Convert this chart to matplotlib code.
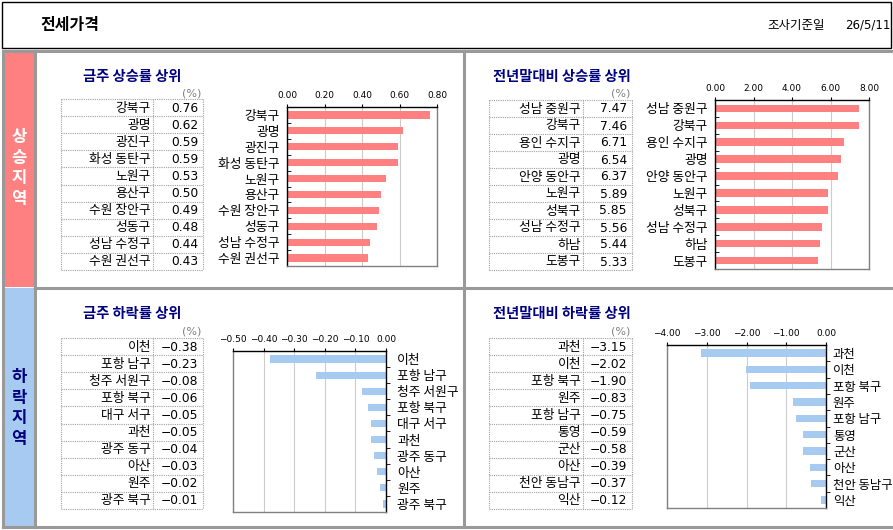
import numpy as np
import matplotlib
matplotlib.use("Agg")
import matplotlib.pyplot as plt
from matplotlib.patches import Rectangle
from matplotlib.ticker import FuncFormatter, FixedLocator

plt.rcParams['font.family'] = ['Noto Sans CJK KR', 'DejaVu Sans']
plt.rcParams['axes.unicode_minus'] = True

# data
week_up_names = ["강북구", "광명", "광진구", "화성 동탄구", "노원구", "용산구",
                 "수원 장안구", "성동구", "성남 수정구", "수원 권선구"]
week_up_vals = [0.76, 0.62, 0.59, 0.59, 0.53, 0.50, 0.49, 0.48, 0.44, 0.43]

year_up_names = ["성남 중원구", "강북구", "용인 수지구", "광명", "안양 동안구",
                 "노원구", "성북구", "성남 수정구", "하남", "도봉구"]
year_up_vals = [7.47, 7.46, 6.71, 6.54, 6.37, 5.89, 5.85, 5.56, 5.44, 5.33]

week_down_names = ["이천", "포항 남구", "청주 서원구", "포항 북구", "대구 서구",
                   "과천", "광주 동구", "아산", "원주", "광주 북구"]
week_down_vals = [-0.38, -0.23, -0.08, -0.06, -0.05, -0.05, -0.04, -0.03, -0.02, -0.01]

year_down_names = ["과천", "이천", "포항 북구", "원주", "포항 남구",
                   "통영", "군산", "아산", "천안 동남구", "익산"]
year_down_vals = [-3.15, -2.02, -1.90, -0.83, -0.75, -0.59, -0.58, -0.39, -0.37, -0.12]

week_up_ticks = [0.0, 0.2, 0.4, 0.6, 0.8]
year_up_ticks = [0, 2, 4, 6, 8]
week_down_ticks = [-0.5, -0.4, -0.3, -0.2, -0.1, 0.0]
year_down_ticks = [-4, -3, -2, -1, 0]

title = "전세가격"
date_label = "조사기준일"
date_value = "26/5/11"

PINK = "#FF8080"
BLUE = "#A6CAF0"
NAVY = "#000080"
FRAME = "#999999"
LBL = 9.2

W, H = 893, 530
fig = plt.figure(figsize=(W / 100, H / 100), dpi=100)
bg = fig.add_axes([0, 0, 1, 1])
bg.set_xlim(0, W)
bg.set_ylim(H, 0)
bg.axis('off')


def fmt(v):
    s = f"{v:.2f}"
    if s == "-0.00":
        s = "0.00"
    return s.replace("-", "\u2212")


# header box
bg.add_patch(Rectangle((2, 1.5), 889, 46, fill=False, ec='black', lw=1))
bg.text(40, 25, title, fontsize=11.5, fontweight='bold', va='center', ha='left')
bg.text(767, 25, date_label, fontsize=9, va='center', ha='left')
bg.text(890, 25, date_value, fontsize=8.5, va='center', ha='right', family='DejaVu Sans')

# side bands
bg.add_patch(Rectangle((3, 51), 32, 236, fc=PINK, ec='none'))
bg.add_patch(Rectangle((3, 288), 32, 239, fc=BLUE, ec='none'))
bg.text(19, 168, "\n".join("상승지역"), color='white', fontsize=12, fontweight='bold',
        ha='center', va='center', linespacing=1.2)
bg.text(19, 408, "\n".join("하락지역"), color=NAVY, fontsize=12, fontweight='bold',
        ha='center', va='center', linespacing=1.2)

# frame lines
lw_f = 2.2
bg.plot([3, 893], [51, 51], color=FRAME, lw=lw_f)
bg.plot([3, 893], [527, 527], color=FRAME, lw=lw_f)
bg.plot([3, 3], [51, 527], color=FRAME, lw=lw_f)
bg.plot([35, 35], [51, 527], color=FRAME, lw=lw_f)
bg.plot([35, 893], [287.5, 287.5], color=FRAME, lw=lw_f)
bg.plot([464, 464], [51, 527], color=FRAME, lw=lw_f)


def draw_table(x0, xs, x1, y0, y1, names, vals):
    n = len(names)
    ys = np.linspace(y0, y1, n + 1)
    kw = dict(color='#A0A0A0', lw=0.8, ls=(0, (1, 1)))
    for y in ys:
        bg.plot([x0, x1], [y, y], **kw)
    for x in (x0, xs, x1):
        bg.plot([x, x], [y0, y1], **kw)
    for i in range(n):
        yc = (ys[i] + ys[i + 1]) / 2 + 0.5
        bg.text(xs - 2, yc, names[i], ha='right', va='center', fontsize=LBL)
        bg.text(x1 - 5, yc, fmt(vals[i]), ha='right', va='center', fontsize=8.8,
                family='DejaVu Sans')
    bg.text(x1 - 11, y0 - 6, "(%)", ha='center', va='center', fontsize=8,
            color='#808080', family='DejaVu Sans')


def draw_chart(x0, y0, x1, y1, names, vals, ticks, color, right=False, pad=5, fs=LBL):
    ax = fig.add_axes([x0 / W, 1 - y1 / H, (x1 - x0) / W, (y1 - y0) / H])
    n = len(names)
    pos = np.arange(n)
    ax.barh(pos, vals, height=0.45, color=color, zorder=2)
    ax.set_ylim(n - 0.5, -0.5)
    ax.set_xlim(ticks[0], ticks[-1])
    ax.set_xticks(ticks)
    ax.xaxis.set_major_formatter(FuncFormatter(lambda v, p: fmt(v)))
    ax.xaxis.tick_top()
    ax.tick_params(axis='x', labelsize=6.5, length=2, pad=3, labelfontfamily='DejaVu Sans')
    ax.set_yticks(pos)
    ax.set_yticklabels(names, fontsize=fs)
    ax.yaxis.set_minor_locator(FixedLocator(np.arange(0.5, n - 0.5)))
    if right:
        ax.yaxis.tick_right()
        ax.yaxis.set_ticks_position('right')
        ax.tick_params(axis='y', which='minor', length=3, direction='out')
    else:
        ax.tick_params(axis='y', which='minor', length=3, direction='in')
    ax.tick_params(axis='y', which='major', length=0, pad=pad)
    ax.grid(axis='x', color='#CCCCCC', lw=0.8, zorder=0)
    ax.set_axisbelow(True)
    for s in ax.spines.values():
        s.set_color('#808080')
        s.set_linewidth(1)
    ax.spines['top'].set_color('black')
    ax.spines['right' if right else 'left'].set_color('black')
    return ax


panels = [
    (83, 77, "금주 상승률 상위", 61, 153, 203, 99, 270, week_up_names, week_up_vals,
     (287, 107, 437, 266), week_up_ticks, PINK, False, 5, LBL),
    (493, 77, "전년말대비 상승률 상위", 489, 583, 632, 100, 270, year_up_names, year_up_vals,
     (715, 100, 869, 269), year_up_ticks, PINK, False, 5, LBL),
    (83, 314, "금주 하락률 상위", 61, 153, 203, 338, 509, week_down_names, week_down_vals,
     (233, 351, 386, 512), week_down_ticks, BLUE, True, 8, LBL),
    (493, 314, "전년말대비 하락률 상위", 489, 583, 632, 338, 509, year_down_names, year_down_vals,
     (667, 345, 826, 508), year_down_ticks, BLUE, True, 5, 8.9),
]

for (tx, ty, ttl, tx0, txs, tx1, ty0, ty1, names, vals, rect, ticks, col, right, pad, fs) in panels:
    bg.text(tx, ty, ttl, color=NAVY, fontsize=10.3, fontweight='bold', ha='left', va='center')
    draw_table(tx0, txs, tx1, ty0, ty1, names, vals)
    draw_chart(*rect, names, vals, ticks, col, right, pad, fs)

plt.savefig("out.png", dpi=100)
